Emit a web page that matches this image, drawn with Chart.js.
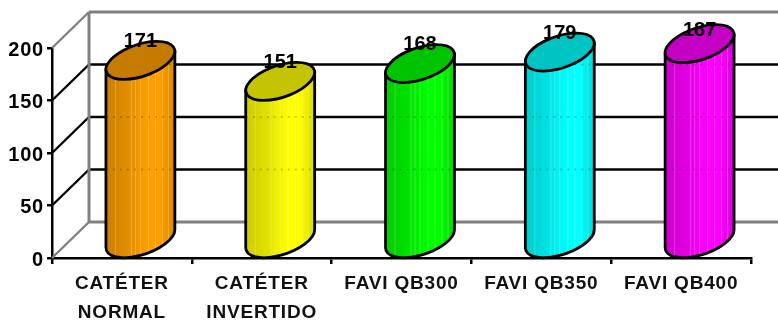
<!DOCTYPE html>
<html>
<head>
<meta charset="utf-8">
<style>
  html, body { margin: 0; padding: 0; background: #fff; }
  canvas { display: block; }
</style>
<script src="https://cdn.jsdelivr.net/npm/chart.js@4"></script>
</head>
<body>
<canvas id="chart" width="778" height="321"></canvas>
<script>
const categories = [["CATÉTER", "NORMAL"], ["CATÉTER", "INVERTIDO"], "FAVI QB300", "FAVI QB350", "FAVI QB400"];
const values = [171, 151, 168, 179, 187];
const baseColors = [[255, 160, 0], [255, 255, 0], [0, 255, 0], [0, 255, 255], [255, 0, 255]];

// Oblique depth of the 3D box, in pixels
const DEPTH_X = 37;
const DEPTH_Y = -36;
const INK = "#000";
const WALL = "#808080";
const LABEL_FONT = "bold 20px 'Liberation Sans', Arial, sans-serif";

const rgb = (c, k) => `rgb(${c.map(v => Math.round(v * k)).join(",")})`;

function line(ctx, x1, y1, x2, y2, color, width) {
  ctx.strokeStyle = color;
  ctx.lineWidth = width;
  ctx.beginPath();
  ctx.moveTo(x1, y1);
  ctx.lineTo(x2, y2);
  ctx.stroke();
}

// Axis text is set slightly wider than the font's natural spacing
const axisSpacing = {
  id: "axisSpacing",
  beforeDraw(chart) {
    chart.ctx.letterSpacing = "0.8px";
  }
};

// Back wall, floor, side wall and the gridlines that wrap around them
const boxWalls = {
  id: "boxWalls",
  beforeDatasetsDraw(chart) {
    const { ctx, scales: { x, y } } = chart;
    ctx.save();
    const backLeft = x.left + DEPTH_X;
    const backRight = x.right + DEPTH_X;
    y.ticks.forEach(t => {
      const py = y.getPixelForValue(t.value);
      const isEdge = t.value === y.min || t.value === y.max;
      const color = isEdge ? WALL : INK;
      line(ctx, x.left, py, backLeft, py + DEPTH_Y, color, 2.4);
      line(ctx, backLeft, py + DEPTH_Y, backRight, py + DEPTH_Y, color, isEdge ? 3 : 2.5);
    });
    line(ctx, backLeft, y.top + DEPTH_Y, backLeft, y.bottom + DEPTH_Y, WALL, 3);
    ctx.restore();
  }
};

// Cylinders positioned from each bar element, with their value labels
const cylinders = {
  id: "cylinders",
  afterDatasetsDraw(chart) {
    const { ctx, scales: { y } } = chart;
    const meta = chart.getDatasetMeta(0);
    const gridValues = y.ticks.map(t => t.value).filter(v => v !== y.min && v !== y.max);

    meta.data.forEach((bar, i) => {
      const a = bar.width / 2;
      const q = DEPTH_X * 0.446;
      const p = Math.sqrt(a * a - q * q);
      const c = -DEPTH_Y / 2 + 1;
      const cx = bar.x + DEPTH_X / 2;
      const topY = bar.y + DEPTH_Y / 2;
      const baseY = bar.base + DEPTH_Y / 2;
      const t0 = Math.atan2(q, p);
      const lift = c * Math.sin(t0);
      const color = baseColors[i];

      const ring = (cy, start, end, ccw) => {
        ctx.save();
        ctx.transform(p, 0, q, -c, cx, cy);
        ctx.arc(0, 0, 1, start, end, ccw);
        ctx.restore();
      };

      const bodyPath = () => {
        ctx.beginPath();
        ctx.moveTo(cx + a, topY - lift);
        ctx.lineTo(cx + a, baseY - lift);
        ring(baseY, t0, t0 - Math.PI, true);
        ctx.lineTo(cx - a, topY + lift);
        ctx.closePath();
      };

      ctx.save();
      ctx.lineJoin = "round";

      const shade = ctx.createLinearGradient(cx - a, 0, cx + a, 0);
      shade.addColorStop(0, rgb(color, 0.8));
      shade.addColorStop(0.3, rgb(color, 0.88));
      shade.addColorStop(0.62, rgb(color, 1));
      shade.addColorStop(0.78, rgb(color, 1));
      shade.addColorStop(1, rgb(color, 0.85));
      bodyPath();
      ctx.fillStyle = shade;
      ctx.fill();

      // Banding of the stepped gradient, plus the gridlines faintly crossing the body
      ctx.save();
      bodyPath();
      ctx.clip();
      ctx.fillStyle = "rgba(255,255,255,0.22)";
      [9, 25, 29, 34, 42, 49, 56, 62].forEach(dx => ctx.fillRect(cx - a + dx, 0, 1, chart.height));
      ctx.setLineDash([2, 5]);
      gridValues.forEach(v => {
        const py = y.getPixelForValue(v) + DEPTH_Y;
        line(ctx, cx - a, py, cx + a, py, "rgba(0,0,0,0.2)", 2);
      });
      ctx.restore();

      bodyPath();
      ctx.strokeStyle = INK;
      ctx.lineWidth = 2.8;
      ctx.stroke();

      ctx.beginPath();
      ring(topY, 0, Math.PI * 2, false);
      ctx.closePath();
      ctx.fillStyle = rgb(color, 0.77);
      ctx.fill();
      ctx.stroke();

      ctx.fillStyle = INK;
      ctx.font = LABEL_FONT;
      ctx.letterSpacing = "0px";
      ctx.textAlign = "center";
      ctx.textBaseline = "middle";
      ctx.fillText(String(values[i]), cx, Math.max(30, bar.y - 37));
      ctx.restore();
    });
  }
};

new Chart(document.getElementById("chart"), {
  type: "bar",
  data: {
    labels: categories,
    datasets: [{
      data: values,
      backgroundColor: "rgba(0,0,0,0)",
      borderWidth: 0,
      barPercentage: 0.493,
      categoryPercentage: 1
    }]
  },
  plugins: [axisSpacing, boxWalls, cylinders],
  options: {
    responsive: false,
    animation: false,
    layout: { padding: { top: 48, right: 27, left: 0, bottom: 0 } },
    plugins: { legend: { display: false }, title: { display: false }, tooltip: { enabled: false } },
    scales: {
      x: {
        afterFit(scale) { scale.height = 63; },
        border: { color: INK, width: 2.5 },
        grid: { drawOnChartArea: false, color: INK, lineWidth: 2.5, tickLength: 6 },
        ticks: {
          color: "#111",
          maxRotation: 0,
          autoSkip: false,
          padding: 5,
          font: { family: "'Liberation Sans', Arial, sans-serif", size: 19, weight: "bold", lineHeight: 1.52 }
        }
      },
      y: {
        min: 0,
        max: 200,
        afterFit(scale) { scale.width = 52; },
        border: { color: INK, width: 2.5 },
        grid: { drawOnChartArea: false, color: INK, lineWidth: 2.5, tickLength: 5 },
        ticks: {
          stepSize: 50,
          color: INK,
          padding: 3,
          labelOffset: 2,
          font: { family: "'Liberation Sans', Arial, sans-serif", size: 20, weight: "bold" }
        }
      }
    }
  }
});
</script>
</body>
</html>
